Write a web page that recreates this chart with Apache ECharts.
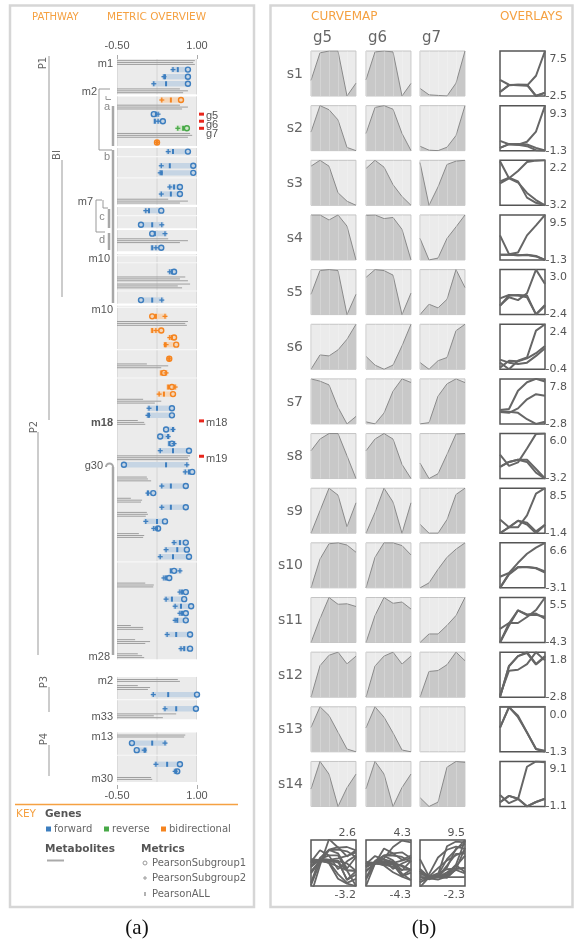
<!DOCTYPE html>
<html><head><meta charset="utf-8">
<script src="https://cdn.jsdelivr.net/npm/echarts@6/dist/echarts.min.js"></script>
<style>html,body{margin:0;padding:0;background:#fff}#c{width:574px;height:940px}</style>
</head><body><div id="c"></div><script>
// ================= (a) METRIC OVERVIEW data =================
const axisTicks = [-0.5, 1.0];
// row kinds per block: M = metabolite lines, G = gene metrics, E = empty
const blockRows = ['MGGGM','GMGGGMG','GEGGEGGM','GEG','GMG','EEGMMEG',
  'EGMGGGEGMGEGGMGGMGGGGMGGMGGMGMGGMGGGEGGMGGGGGMGMGM','MMGEGM','MGGEGGM'];
const geneDirection = ['fff','bffrb','fffff','ff','ff','ff','bbbbbbbb','fffff','fffff','fffff','fffff','fffff','ff','ffff'].join('');
const pearsonSubgroup1 = [0.83,0.83,0.83, 0.70,0.19,0.36,0.81,0.25, 0.83,0.93,0.93,0.68,0.68, 0.33,-0.05, 0.16,0.33, 0.57,-0.05,
  0.16,0.33,0.57,0.61,0.48,0.38,0.53,0.55,
  0.53,0.53,0.42,0.31,0.53,0.85,-0.37,0.91,0.79,0.18,0.79,0.40,0.27,0.79,0.81,0.85,0.57,0.48,0.79,0.76,0.89,0.79,0.79,0.87,0.87,
  1.00,0.98, -0.22,-0.13,0.68,0.63];
const pearsonSubgroup2 = [0.55,0.38,0.19, 0.34,0.27,0.27,0.64,0.26, 0.46,0.33,0.31,0.49,0.33, 0.04,0.34, 0.40,0.23, 0.49,0.34,
  0.40,0.23,0.49,0.42,0.48,0.42,0.59,0.29,
  0.10,0.08,0.55,0.46,0.57,0.31,0.81,0.78,0.34,0.08,0.34,0.04,0.19,0.57,0.42,0.31,0.68,0.38,0.68,0.42,0.59,0.68,0.59,0.44,0.70,
  0.18,0.40, 0.40,0.01,0.23,0.59];
const pearsonAll = [0.64,0.40,0.42, 0.51,0.23,0.21,0.74,0.25, 0.55,0.49,0.34,0.57,0.51, 0.10,0.16, 0.21,0.16, 0.53,0.16,
  0.23,0.16,0.53,0.40,0.48,0.33,0.46,0.38,
  0.25,0.10,0.55,0.46,0.48,0.55,0.42,0.85,0.51,0.08,0.51,0.25,0.25,0.68,0.63,0.55,0.51,0.42,0.72,0.53,0.70,0.72,0.63,0.61,0.76,
  0.46,0.61, 0.16,0.03,0.44,0.61];
const metaboliteLines = [[0.96,0.93,0.96],[0.68,0.83,0.74],[0.68,0.83,0.72],[0.87,0.91,0.83],[0.46,0.83,0.68],[0.46,0.83,0.68],
  [0.78,0.68,0.83],[0.87,0.64,0.72],
  [0.83,0.78,0.81],[0.06,0.46,0.33],[-0.01,0.33,0.21],[-0.11,0.01,0.03],[0.87,0.83,0.85],[0.06,0.08,0.14],[-0.24,-0.03,-0.05],
  [0.06,0.08,0.04],[-0.09,0.01,-0.01],[0.03,0.19,0.18],[-0.24,-0.01,-0.01],[-0.16,0.12,0.03],[-0.11,-0.03,0.01],
  [0.64,0.68],[-0.11,0.12,0.08],[0.61,0.19,0.36],[0.78,0.76],[0.14,0.16]];
// labels by row slot
const rowLabels = [[0,'m1'],[4,'m2'],[19,'m7'],[26,'m10'],[33,'m10'],[49,'m18'],[55,'g30'],[82,'m28'],[83,'m2'],[88,'m33'],[89,'m13'],[95,'m30']];
const highlighted = [[7,'g5'],[8,'g6'],[9,'g7'],[49,'m18'],[54,'m19']];

// ================= (b) CURVEMAP data =================
const sampleNames = ['s1','s2','s3','s4','s5','s6','s7','s8','s9','s10','s11','s12','s13','s14'];
const geneNames = ['g5','g6','g7'];
const g5Curves = [
  [-1.6,-0.1,0.0,0.0,-2.45,-1.75],[-0.66,0.25,0.11,-0.24,-1.19,-1.3],[-0.33,0.1,-0.33,-2.28,-2.9,-3.2],
  [-0.05,-0.05,-0.19,-0.05,-0.36,-1.3],[-1.34,-0.1,-0.05,-0.1,-2.4,-1.34],[-0.3,0.13,0.1,0.28,0.6,1.05],
  [0.2,0.05,-0.2,-1.7,-2.8,-2.3],[-0.82,0.19,0.66,0.66,-1.25,-3.2],[-1.4,-0.03,1.34,0.92,-1.0,0.45],
  [-3.1,-0.22,1.31,1.4,1.18,0.46],[-4.3,-0.59,2.7,1.65,1.72,1.3],[-2.8,0.35,1.39,1.7,0.53,1.3],
  [-0.6,-0.01,-0.26,-0.74,-1.22,-1.3],[-0.16,1.3,0.63,-1.08,-0.09,0.63]];
const g6Curves = [
  [-1.6,-0.05,0.0,-0.05,-2.5,-1.8],[-0.66,0.22,0.28,0.16,-0.66,-1.24],[-0.56,0.03,-0.46,-1.72,-2.57,-3.2],
  [-0.06,-0.05,-0.15,-0.12,-0.45,-1.3],[-0.45,-0.05,-0.1,-0.33,-2.35,-1.25],[0.2,0.01,-0.08,0.01,0.43,0.9],
  [0.0,-0.2,0.86,3.0,4.2,3.85],[-0.82,0.19,0.66,0.19,-1.99,-3.2],[-1.4,-0.14,1.34,0.5,-1.4,0.45],
  [-3.1,-0.04,1.4,1.4,1.13,0.19],[-4.3,-0.1,2.7,1.8,2.0,0.9],[-2.75,0.4,1.4,1.8,0.6,1.4],
  [-0.6,-0.01,-0.3,-0.74,-1.22,-1.27],[-0.16,1.3,0.63,-1.1,-0.09,0.63]];
const g7Curves = [
  [1.1,0.0,-0.1,-0.2,2.0,7.5],[1.0,0.2,0.1,0.8,3.2,9.3],[2.09,0.04,0.92,2.0,2.16,2.2],
  [4.6,0.09,0.48,4.6,7.0,9.5],[-1.3,-0.31,-0.66,0.16,3.0,1.28],[0.02,-0.4,0.13,0.33,2.0,2.4],
  [0.5,0.7,5.0,7.0,7.8,7.2],[1.67,-0.6,0.1,2.95,5.93,6.0],[1.6,-0.1,-0.1,2.5,7.3,8.5],
  [-0.7,0.1,2.3,4.26,5.58,6.6],[-1.35,-0.05,-0.05,1.25,2.76,5.5],[-2.6,-0.09,0.0,0.57,1.8,0.96],
  [0,0,0,0,0,0],[1.5,-0.35,0.55,7.9,9.1,8.9]];
const geneOverlayMax = [2.6, 4.3, 9.5];
const geneOverlayMin = [-3.2, -4.3, -2.3];

// ================= build =================
const chart = echarts.init(document.getElementById('c'), null, {width:574, height:940});
const ORANGE = '#f5a142';
const dirColor = {f:'#3d7ebf', r:'#48a948', b:'#f5841f'};
const dirBand = {f:'#c6d5e4', r:'#cfe5c9', b:'#f5d6b8'};
const ROWPX = 7.07, TOP = 59;
const blockGap = [0,0.3,0.3,0.35,0.25,0.4,0.3,2.5,1.86];
let u = 0; const slots = [], blocks = [];
blockRows.forEach((s, bi) => { u += blockGap[bi]; const t = u; for (const ch of s) { slots.push({kind:ch, u:u+0.5}); u += 1; } blocks.push([t, u]); });
const uMax = u;
const geneData = [], metabData = [], emptyData = [];
let gi = 0, mi = 0;
slots.forEach(sl => {
  if (sl.kind === 'G') { geneData.push([sl.u, pearsonSubgroup1[gi], pearsonSubgroup2[gi], pearsonAll[gi], gi]); gi++; }
  else if (sl.kind === 'M') { const L = metaboliteLines[mi++]; metabData.push([sl.u, L.length, L[0], L[1], L.length>2?L[2]:0]); }
  else emptyData.push([sl.u, 0]);
});

const grids = [], xAxes = [], yAxes = [], series = [];
const lab = {fontFamily:'Liberation Sans', fontSize:11, color:'#555'};
grids.push({left:117, top:TOP, width:80, height:uMax*ROWPX});
['top','bottom'].forEach(pos => xAxes.push({gridIndex:0, type:'value', position:pos, min:axisTicks[0], max:axisTicks[1], offset:3,
  axisLine:{show:false}, axisTick:{show:true, length:4, lineStyle:{color:'#aaa'}, customValues:axisTicks},
  axisLabel:Object.assign({margin:5, customValues:axisTicks, formatter:v=>v.toFixed(2)}, lab), splitLine:{show:false}}));
yAxes.push({gridIndex:0, type:'value', min:0, max:uMax, inverse:true, show:false});
const mid = (axisTicks[0]+axisTicks[1])/2;
series.push({type:'custom', xAxisIndex:0, yAxisIndex:0, data:blocks, silent:true, z:1,
  renderItem:(p, api) => { const a = api.coord([axisTicks[0], api.value(0)]), b = api.coord([axisTicks[1], api.value(1)]), c = api.coord([mid, api.value(0)]);
    return {type:'group', children:[
      {type:'rect', shape:{x:a[0], y:a[1], width:b[0]-a[0], height:b[1]-a[1]}, style:{fill:'#ebebeb'}},
      {type:'line', shape:{x1:c[0], y1:a[1], x2:c[0], y2:b[1]}, style:{stroke:'#d4d4d4', lineWidth:1}},
      {type:'line', shape:{x1:b[0]-0.5, y1:a[1], x2:b[0]-0.5, y2:b[1]}, style:{stroke:'#dadada', lineWidth:1}},
      {type:'line', shape:{x1:a[0]+0.5, y1:a[1], x2:a[0]+0.5, y2:b[1]}, style:{stroke:'#dadada', lineWidth:1}}]}; }});
series.push({type:'custom', xAxisIndex:0, yAxisIndex:0, data:emptyData, silent:true, z:2,
  renderItem:(p, api) => { const a = api.coord([axisTicks[0], api.value(0)]), b = api.coord([axisTicks[1], api.value(0)]);
    return {type:'line', shape:{x1:a[0], y1:a[1]-2, x2:b[0], y2:b[1]-2}, style:{stroke:'#f7f7f7', lineWidth:1.2}}; }});
series.push({type:'custom', xAxisIndex:0, yAxisIndex:0, data:metabData, silent:true, z:3,
  renderItem:(p, api) => { const uu = api.value(0), n = api.value(1), s = api.coord([axisTicks[0], uu]); const ch = [];
    for (let i = 0; i < n; i++) { const e = api.coord([api.value(2+i), uu]); const off = (i-(n-1)/2)*1.9;
      ch.push({type:'line', shape:{x1:s[0], y1:s[1]+off, x2:e[0], y2:e[1]+off}, style:{stroke:'#9e9e9e', lineWidth:1}}); }
    return {type:'group', children:ch}; }});
series.push({type:'custom', xAxisIndex:0, yAxisIndex:0, data:geneData, silent:true, z:4,
  renderItem:(p, api) => { const uu = api.value(0); const c1 = api.coord([api.value(1), uu]), c2 = api.coord([api.value(2), uu]), c3 = api.coord([api.value(3), uu]);
    const d = geneDirection[api.value(4)], col = dirColor[d], y = c1[1];
    const x0 = Math.min(c1[0], c2[0], c3[0]) - 2, x1 = Math.max(c1[0], c2[0], c3[0]) + 2;
    return {type:'group', children:[
      {type:'rect', shape:{x:x0, y:y-2.7, width:x1-x0, height:5.4}, style:{fill:dirBand[d]}},
      {type:'line', shape:{x1:c3[0], y1:y-2.5, x2:c3[0], y2:y+2.5}, style:{stroke:col, lineWidth:2}},
      {type:'line', shape:{x1:c2[0]-2.5, y1:y, x2:c2[0]+2.5, y2:y}, style:{stroke:col, lineWidth:1.3}},
      {type:'line', shape:{x1:c2[0], y1:y-2.5, x2:c2[0], y2:y+2.5}, style:{stroke:col, lineWidth:1.3}},
      {type:'circle', shape:{cx:c1[0], cy:y, r:2.5}, style:{fill:'none', stroke:col, lineWidth:1.4}}]}; }});
series.push({type:'custom', xAxisIndex:0, yAxisIndex:0, clip:false, silent:true, z:5,
  data:rowLabels.map(r => [slots[r[0]].u, 0]),
  renderItem:(p, api) => { const r = rowLabels[p.dataIndex]; const c = api.coord([axisTicks[0], api.value(0)]);
    let dx = -4; if (p.dataIndex===1) dx = -20; if (r[1]==='m7') dx = -24; if (r[1]==='g30') dx = -14; if (p.dataIndex===3 || r[1]==='m28') dx = -7;
    return {type:'text', x:c[0]+dx, y:c[1]+1, style:{text:r[1], align:'right', verticalAlign:'middle', font:(r[1]==='m18'?'bold ':'')+'11px "Liberation Sans"', fill:'#555'}}; }});
series.push({type:'custom', xAxisIndex:0, yAxisIndex:0, clip:false, silent:true, z:5,
  data:highlighted.map(r => [slots[r[0]].u, 0]),
  renderItem:(p, api) => { const r = highlighted[p.dataIndex]; const c = api.coord([axisTicks[1], api.value(0)]);
    const isM = r[1][0]==='m'; const my = c[1] - (isM ? 1.5 : 0);
    const ty = isM ? my + 2.5 : my + 2 + p.dataIndex*1.8;
    return {type:'group', children:[
      {type:'rect', shape:{x:c[0]+2, y:my-1.5, width:5, height:3}, style:{fill:'#e8261c'}},
      {type:'text', x:c[0]+9, y:ty, style:{text:r[1], align:'left', verticalAlign:'middle', font:'11px "Liberation Sans"', fill:'#555'}}]}; }});

// ---- (b) ----
const colX = [311, 366, 420], CW = 45, ovX = 500, rowTop0 = 51, rowStep = 54.65;
const curveSets = [g5Curves, g6Curves, g7Curves];
const fmt1 = v => { const s = v.toFixed(1); return s === '-0.0' ? '0.0' : s; };
const graphics = [];
function addGrid(gridOpt, xOpt, yOpt) {
  const g = grids.length; grids.push(gridOpt);
  const xi = xAxes.length; xAxes.push(Object.assign({gridIndex:g}, xOpt));
  const yi = yAxes.length; yAxes.push(Object.assign({gridIndex:g}, yOpt));
  return [xi, yi];
}
sampleNames.forEach((sn, k) => {
  const top = rowTop0 + k*rowStep;
  curveSets.forEach((cs, j) => {
    const d = cs[k], mn = Math.min(...d), mx = Math.max(...d), flat = mn === mx;
    const [xi, yi] = addGrid({left:colX[j], top, width:CW, height:CW, show:true, backgroundColor:'#ebebeb', borderColor:'#c4c4c4', borderWidth:1},
      {type:'value', min:0, max:d.length-1, interval:1, z:5, axisLine:{show:false}, axisTick:{show:false}, axisLabel:{show:false},
       splitLine:{show:true, lineStyle:{color:'rgba(255,255,255,0.22)', width:1}}},
      {type:'value', min:mn, max:flat ? mn+1 : mx, show:false});
    series.push({type:'line', xAxisIndex:xi, yAxisIndex:yi, data:d.map((v,i)=>[i,v]), symbol:'none', silent:true, z:2,
      lineStyle:{color:'#8a8a8a', width:1, opacity:flat?0:1}, areaStyle:{color:'#c8c8c8', origin:'start', opacity:flat?0:1}});
  });
  const all = [].concat(g5Curves[k], g6Curves[k], g7Curves[k]); const mn = Math.min(...all), mx = Math.max(...all);
  const [xi, yi] = addGrid({left:ovX, top, width:CW, height:CW, show:true, backgroundColor:'#fff', borderColor:'#555', borderWidth:1.5},
    {type:'value', min:0, max:5, show:false},
    {type:'value', position:'right', min:mn, max:mx, axisLine:{show:false}, axisTick:{show:false}, splitLine:{show:false},
     axisLabel:{customValues:[mn, mx], align:'right', margin:22, formatter:v => (Math.abs(v-mx)<1e-9 ? '{t|' : '{b|') + fmt1(v) + '}',
      rich:{t:{padding:[16,0,0,0], fontFamily:'DejaVu Sans', fontSize:11, color:'#555'}, b:{padding:[0,0,0,0], fontFamily:'DejaVu Sans', fontSize:11, color:'#555'}}}});
  curveSets.forEach(cs => series.push({type:'line', xAxisIndex:xi, yAxisIndex:yi, data:cs[k].map((v,i)=>[i,v]), symbol:'none', silent:true,
    lineStyle:{color:'#666', width:2}}));
  graphics.push({type:'text', x:303, y:top+23, style:{text:sn, align:'right', verticalAlign:'middle', font:'14px "DejaVu Sans"', fill:'#666'}});
});
geneNames.forEach((gn, j) => {
  graphics.push({type:'text', x:colX[j]+2, y:38, style:{text:gn, align:'left', verticalAlign:'middle', font:'15px "DejaVu Sans"', fill:'#666'}});
  const mn = geneOverlayMin[j], mx = geneOverlayMax[j];
  const [xi, yi] = addGrid({left:colX[j], top:840, width:CW, height:46, show:true, backgroundColor:'#fff', borderColor:'#555', borderWidth:1.5},
    {type:'value', min:0, max:5, show:false},
    {type:'value', position:'right', min:mn, max:mx, axisLine:{show:false}, axisTick:{show:false}, splitLine:{show:false},
     axisLabel:{customValues:[mn, mx], align:'right', margin:0, formatter:v => (Math.abs(v-mx)<1e-9 ? '{t|' : '{b|') + fmt1(v) + '}',
      rich:{t:{padding:[0,0,14,0], fontFamily:'DejaVu Sans', fontSize:11, color:'#555'}, b:{padding:[18,0,0,0], fontFamily:'DejaVu Sans', fontSize:11, color:'#555'}}}});
  curveSets[j].forEach(c => series.push({type:'line', xAxisIndex:xi, yAxisIndex:yi, data:c.map((v,i)=>[i,v]), symbol:'none', silent:true,
    lineStyle:{color:'#666', width:1.8}}));
});

// ---- static decorations ----
const T = (text, x, y, font, fill, align, rot) => graphics.push({type:'text', x, y, rotation:rot||0,
  style:{text, align:align||'left', verticalAlign:'middle', font, fill}});
const LN = (x1,y1,x2,y2,w,c) => graphics.push({type:'line', shape:{x1,y1,x2,y2}, style:{stroke:c||'#999', lineWidth:w||1}, silent:true});
graphics.push({type:'rect', shape:{x:10, y:5.5, width:244, height:901.5}, style:{fill:'none', stroke:'#d6d6d6', lineWidth:2.5}});
graphics.push({type:'rect', shape:{x:270.5, y:5.5, width:302, height:901.5}, style:{fill:'none', stroke:'#d6d6d6', lineWidth:2.5}});
T('PATHWAY', 32, 17, '10px "DejaVu Sans"', ORANGE);
T('METRIC OVERVIEW', 107, 17, '10.5px "DejaVu Sans"', ORANGE);
T('CURVEMAP', 311, 17, '12px "DejaVu Sans"', ORANGE);
T('OVERLAYS', 500, 17, '12px "DejaVu Sans"', ORANGE);
const treeFont = '10px "DejaVu Sans"';
T('P1', 43, 63, treeFont, '#666', 'center', Math.PI/2);
T('BI', 57, 155, treeFont, '#666', 'center', Math.PI/2);
T('P2', 34, 427, treeFont, '#666', 'center', Math.PI/2);
T('P3', 44, 682, treeFont, '#666', 'center', Math.PI/2);
T('P4', 44, 739, treeFont, '#666', 'center', Math.PI/2);
[[49,56,49,420,1],[62,160,62,297,1],[38,432,38,655,1],[49,687,49,712,1],[49,745,49,776,1],
 [110,89,99,89,1],[99,89,99,150,1],[99,150,112,150,1],[106,96,106,99.5,1],[106,99.5,111,99.5,1],
 [113,106,113,146,2.5],[113,150,113,303,2.5],
 [102,200,96,200,1],[96,200,96,232,1],[96,232,105,232,1],[103,200,103,208,1],[103,208,108,208,1],
 [109,209,109,228,2.5],[109,233,109,250,2.5],[113,467,113,655,2.5]].forEach(l => LN(l[0],l[1],l[2],l[3],l[4], l[4]>2?'#a8a8a8':'#999'));
graphics.push({type:'arc', shape:{cx:109.5, cy:467, r:3.5, startAngle:Math.PI, endAngle:Math.PI*2, clockwise:true}, style:{stroke:'#a8a8a8', lineWidth:2, fill:'none'}});
T('a', 107, 107, '11px "Liberation Sans"', '#888', 'center');
T('b', 107, 157, '11px "Liberation Sans"', '#888', 'center');
T('c', 102, 217, '11px "Liberation Sans"', '#888', 'center');
T('d', 102, 240, '11px "Liberation Sans"', '#888', 'center');
// key
LN(15, 804.5, 238, 804.5, 1.5, ORANGE);
const kf = '10px "DejaVu Sans"', kb = 'bold 10.5px "DejaVu Sans"';
T('KEY', 16, 814, '10.5px "DejaVu Sans"', ORANGE);
T('Genes', 45, 814, kb, '#555');
[['forward','f',46],['reverse','r',104],['bidirectional','b',161]].forEach(e => {
  graphics.push({type:'rect', shape:{x:e[2], y:826.5, width:5, height:5}, style:{fill:dirColor[e[1]]}});
  T(e[0], e[2]+8, 829, kf, '#666');
});
T('Metabolites', 45, 849, kb, '#555');
LN(47, 860.5, 64, 860.5, 2, '#aaa');
T('Metrics', 141, 849, kb, '#555');
graphics.push({type:'circle', shape:{cx:145, cy:863, r:2}, style:{fill:'none', stroke:'#999', lineWidth:1}});
T('PearsonSubgroup1', 152, 863, kf, '#666');
LN(143, 878, 147, 878, 1, '#999'); LN(145, 876, 145, 880, 1, '#999');
T('PearsonSubgroup2', 152, 878, kf, '#666');
LN(145, 892, 145, 896, 1.5, '#999');
T('PearsonALL', 152, 894, kf, '#666');
T('(a)', 137, 928, '21px "Liberation Serif"', '#111', 'center');
T('(b)', 424, 928, '21px "Liberation Serif"', '#111', 'center');

chart.setOption({animation:false, backgroundColor:'#fff', grid:grids, xAxis:xAxes, yAxis:yAxes, series, graphic:graphics});
</script></body></html>
